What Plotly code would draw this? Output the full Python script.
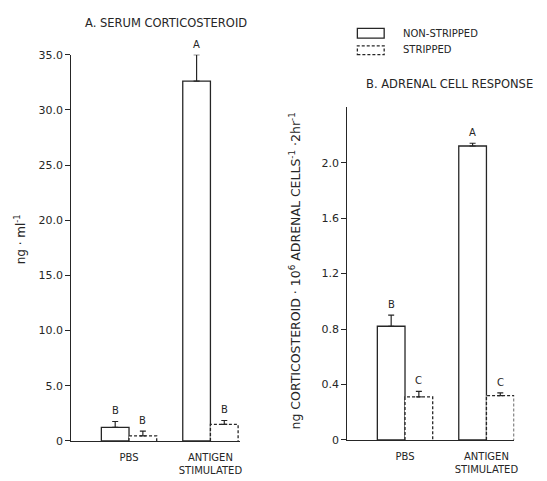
import plotly.graph_objects as go

W, H = 547, 481

groups = ["PBS", "ANTIGEN<br>STIMULATED"]

# Panel A: serum corticosteroid (ng/ml)
a_non = [1.23, 32.6]
a_non_err = [0.53, 2.4]
a_str = [0.45, 1.5]
a_str_err = [0.43, 0.35]
a_non_lbl = ["B", "A"]
a_str_lbl = ["B", "B"]
a_ticks = [0, 5, 10, 15, 20, 25, 30, 35]
a_ticktext = ["0", "5.0", "10.0", "15.0", "20.0", "25.0", "30.0", "35.0"]

# Panel B: adrenal cell response
b_non = [0.82, 2.12]
b_non_err = [0.08, 0.02]
b_str = [0.31, 0.32]
b_str_err = [0.04, 0.02]
b_non_lbl = ["B", "A"]
b_str_lbl = ["C", "C"]
b_ticks = [0, 0.4, 0.8, 1.2, 1.6, 2.0]
b_ticktext = ["0", "0.4", "0.8", "1.2", "1.6", "2.0"]

INK = "#262626"
FONT = "DejaVu Sans"
BW = 0.34  # bar width in category units

fig = go.Figure()

def px_x(p):
    return p / W

def px_y(p):
    return 1 - p / H

def add_panel(xa, ya, non, non_err, st, st_err, non_lbl, st_lbl, shift):
    xs = list(range(len(groups)))
    fig.add_trace(go.Bar(
        x=xs, y=non, width=BW, offset=-BW, xaxis=xa, yaxis=ya,
        marker=dict(color="white", line=dict(color=INK, width=1.3)),
        error_y=dict(type="data", symmetric=False, array=non_err,
                     arrayminus=[0] * len(non), color=INK, thickness=1.2, width=3),
        showlegend=False, hoverinfo="skip"))
    fig.add_trace(go.Bar(
        x=xs, y=st, width=BW, offset=0, xaxis=xa, yaxis=ya,
        marker=dict(color="white", line=dict(color="white", width=0)),
        error_y=dict(type="data", symmetric=False, array=st_err,
                     arrayminus=[0] * len(st), color=INK, thickness=1.2, width=3),
        showlegend=False, hoverinfo="skip"))
    # dashed outline of stripped bars
    ox, oy = [], []
    for i, v in zip(xs, st):
        ox += [i, i, i + BW, i + BW, None]
        oy += [0, v, v, 0, None]
    fig.add_trace(go.Scatter(
        x=ox, y=oy, mode="lines", xaxis=xa, yaxis=ya,
        line=dict(color=INK, width=1.3, dash="3px,2px"),
        showlegend=False, hoverinfo="skip"))
    yref = ya.replace("axis", "")
    for i in xs:
        fig.add_annotation(x=i - BW / 2, y=non[i] + non_err[i], xref=xa, yref=yref,
                           text=non_lbl[i], showarrow=False, yanchor="bottom", yshift=shift,
                           font=dict(family=FONT, size=10, color=INK))
        fig.add_annotation(x=i + BW / 2, y=st[i] + st_err[i], xref=xa, yref=yref,
                           text=st_lbl[i], showarrow=False, yanchor="bottom", yshift=shift,
                           font=dict(family=FONT, size=10, color=INK))

add_panel("x", "y", a_non, a_non_err, a_str, a_str_err, a_non_lbl, a_str_lbl, 3)
add_panel("x2", "y2", b_non, b_non_err, b_str, b_str_err, b_non_lbl, b_str_lbl, 3)

axis_common = dict(showgrid=False, zeroline=False, showline=True, linecolor=INK, linewidth=1.3,
                   tickfont=dict(family=FONT, size=11, color=INK))

fig.update_layout(
    width=W, height=H, margin=dict(l=0, r=0, t=0, b=0), autosize=False,
    paper_bgcolor="white", plot_bgcolor="white",
    barmode="overlay", showlegend=False,
    xaxis=dict(domain=[px_x(72), px_x(242)], range=[-0.707, 1.366], tickvals=[0, 1],
               ticktext=groups, ticks="outside", ticklen=7, tickcolor="rgba(0,0,0,0)",
               anchor="y", **axis_common),
    yaxis=dict(domain=[px_y(447), px_y(50)], range=[0, 35], tickvals=a_ticks, ticktext=a_ticktext,
               ticks="outside", ticklen=5, tickcolor=INK, anchor="x", **axis_common),
    xaxis2=dict(domain=[px_x(350), px_x(518)], range=[-0.707, 1.341], tickvals=[0, 1],
                ticktext=groups, ticks="outside", ticklen=7, tickcolor="rgba(0,0,0,0)",
                anchor="y2", **axis_common),
    yaxis2=dict(domain=[px_y(446), px_y(104)], range=[0, 2.4], tickvals=b_ticks, ticktext=b_ticktext,
                ticks="outside", ticklen=5, tickcolor=INK, anchor="x2", **axis_common),
)
fig.update_xaxes(tickfont=dict(size=10))

ann_font = dict(family=FONT, size=11.5, color=INK)
common = dict(xref="paper", yref="paper", showarrow=False, yanchor="middle")
fig.add_annotation(x=px_x(167), y=px_y(17), text="A. SERUM CORTICOSTEROID", xanchor="center",
                   font=ann_font, **common)
fig.add_annotation(x=px_x(453), y=px_y(80), text="B. ADRENAL CELL RESPONSE", xanchor="center",
                   font=ann_font, **common)
fig.add_annotation(x=px_x(20), y=px_y(240), text="ng · ml<sup>-1</sup>", xanchor="center",
                   textangle=-90, font=dict(family=FONT, size=12, color=INK), **common)
fig.add_annotation(x=px_x(297), y=px_y(272), xanchor="center",
                   text="ng CORTICOSTEROID · 10<sup>6</sup> ADRENAL CELLS<sup>-1</sup> ·2hr<sup>-1</sup>",
                   textangle=-90, font=dict(family=FONT, size=12.5, color=INK), **common)

# legend
fig.add_shape(type="rect", xref="paper", yref="paper", x0=px_x(360), x1=px_x(387), y0=px_y(33), y1=px_y(23),
              line=dict(color=INK, width=1.3), fillcolor="white")
fig.add_shape(type="rect", xref="paper", yref="paper", x0=px_x(360), x1=px_x(387), y0=px_y(50), y1=px_y(41),
              line=dict(color=INK, width=1.3, dash="3px,2px"), fillcolor="white")
fig.add_annotation(x=px_x(404), y=px_y(28), text="NON-STRIPPED", xanchor="left",
                   font=dict(family=FONT, size=10, color=INK), **common)
fig.add_annotation(x=px_x(404), y=px_y(45), text="STRIPPED", xanchor="left",
                   font=dict(family=FONT, size=10, color=INK), **common)

fig.write_html("out.html", config={"displayModeBar": False},
               post_script="document.body.style.margin='0';")
